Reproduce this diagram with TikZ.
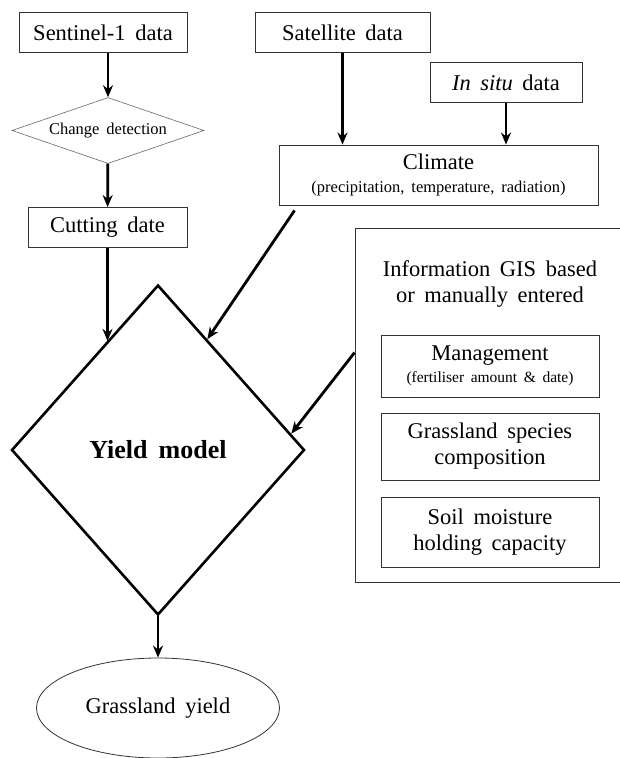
\documentclass[tikz,border=0pt]{standalone}
\usepackage{fontspec}
\setmainfont[WordSpace=1.7]{Liberation Serif}
\usetikzlibrary{shapes.geometric,arrows.meta}
\newcommand{\subtextfont}{\fontsize{16.5}{18}\selectfont}

\tikzset{
	databox/.style={rectangle, draw=black!80, line width=0.9pt, inner sep=0pt, align=center, font=\fontsize{22.5}{26}\selectfont},
	flow/.style={line width=2.8pt, -{Stealth[length=12pt,width=10pt]}},
}

\begin{document}
\begin{tikzpicture}[x=1pt,y=-1pt]
	\useasboundingbox (0,0) rectangle (619,758);
	% inputs
	\node[databox, minimum width=168pt, minimum height=40pt] (s1) at (103,32.5) {Sentinel-1 data};
	\node[diamond, draw=black!60, line width=0.6pt, inner sep=0pt, aspect=2.9, minimum width=192pt, minimum height=66pt, font=\fontsize{16.5}{19}\selectfont] (cd) at (108,130.5) {Change detection};
	\node[databox, minimum width=159pt, minimum height=40pt] (cut) at (107.5,227.5) {Cutting date};
	\node[databox, minimum width=175pt, minimum height=40pt] (sat) at (342.5,32.5) {Satellite data};
	\node[databox, minimum width=152pt, minimum height=40pt] (ins) at (506,82.5) {\textit{In situ} data};
	\node[databox, minimum width=319pt, minimum height=60pt] (clim) at (438.5,175) {Climate\\[-3pt]{\subtextfont (precipitation, temperature, radiation)}};
	% information block
	\node[databox, minimum width=275pt, minimum height=354pt] (info) at (492.5,405) {};
	\node[align=center, font=\fontsize{22.5}{26}\selectfont] (infotitle) at (490,284) {Information GIS based\\or manually entered};
	\node[databox, minimum width=218pt, minimum height=62pt] (mgmt) at (490,366) {Management\\[-4pt]{\fontsize{15.5}{17}\selectfont (fertiliser amount \& date)}};
	\node[databox, minimum width=218pt, minimum height=67pt] (spec) at (490,446.5) {Grassland species\\composition};
	\node[databox, minimum width=218pt, minimum height=70pt] (soil) at (490,532) {Soil moisture\\holding capacity};
	% model and output
	\node[diamond, draw, line width=2.6pt, inner sep=0pt, minimum width=293pt, minimum height=330pt, font=\fontsize{26}{30}\selectfont\bfseries] (ym) at (158,450) {Yield model};
	\node[ellipse, draw=black!80, line width=0.8pt, minimum width=243pt, minimum height=100pt, font=\fontsize{22.5}{26}\selectfont] (gy) at (158,708) {Grassland yield};

	\path[flow]
		(s1.south -| cd.north) edge (cd.north)
		(cd) edge (cut)
		(cut.south) edge (cut.south |- ym.115)
		(sat.south) edge (sat.south |- clim.north)
		(ins.south) edge (ins.south |- clim.north)
		([xshift=16pt,yshift=-5pt]clim.south west) edge (ym.66)
		([yshift=-125pt]info.north west) edge (ym.7)
		(ym) edge (gy);
\end{tikzpicture}
\end{document}
